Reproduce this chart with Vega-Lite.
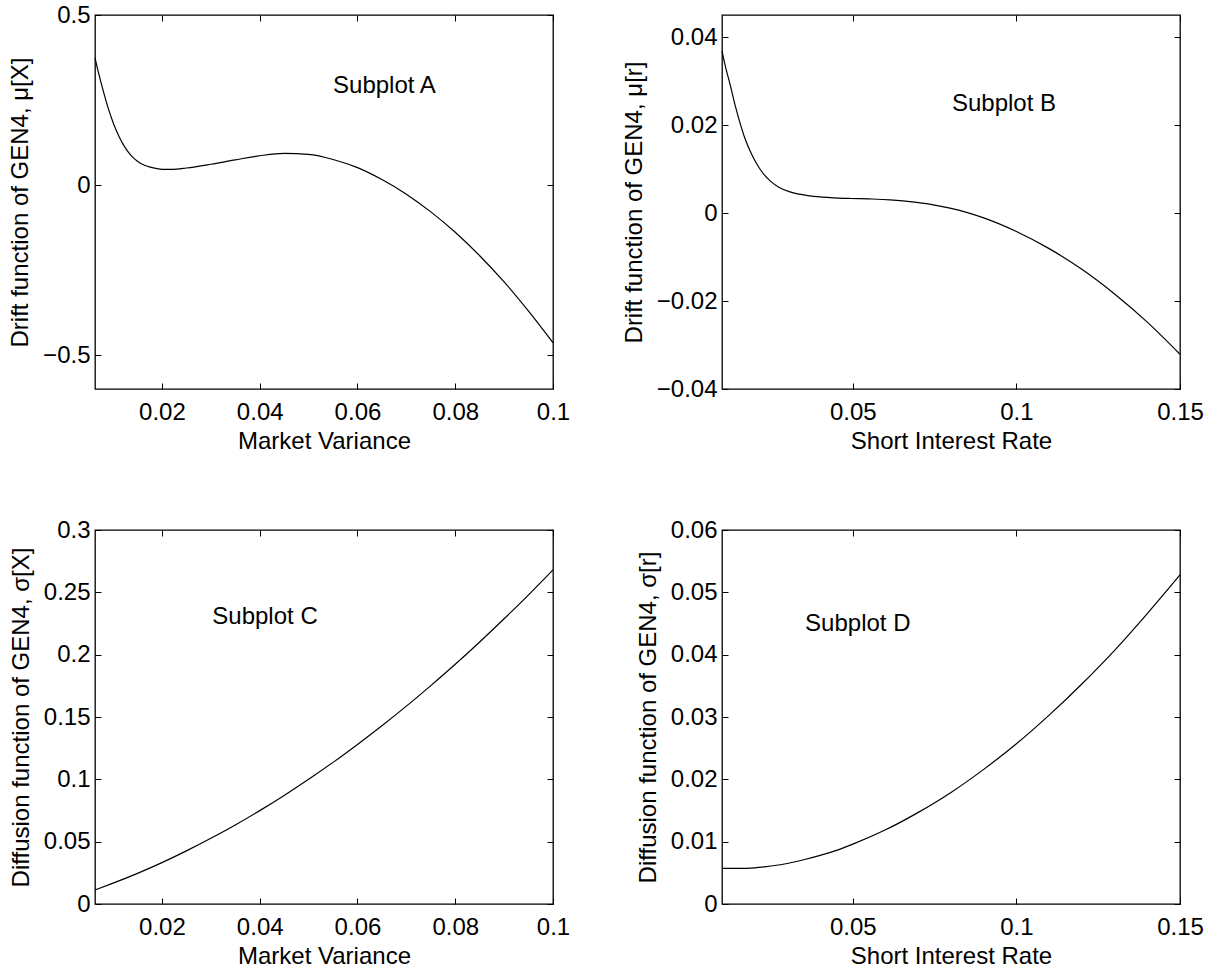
{
  "$schema": "https://vega.github.io/schema/vega-lite/v6.json",
  "background": "white",
  "padding": {"left": 7, "top": 2, "right": 5, "bottom": 5},
  "datasets": {
    "A": [
      {"x": 0.0063, "y": 0.374}, {"x": 0.007, "y": 0.331}, {"x": 0.008, "y": 0.276}, {"x": 0.009, "y": 0.226},
      {"x": 0.010, "y": 0.184}, {"x": 0.011, "y": 0.149}, {"x": 0.012, "y": 0.121}, {"x": 0.013, "y": 0.099},
      {"x": 0.014, "y": 0.082}, {"x": 0.015, "y": 0.070}, {"x": 0.016, "y": 0.061}, {"x": 0.017, "y": 0.055},
      {"x": 0.018, "y": 0.051}, {"x": 0.019, "y": 0.048},
      {"x": 0.020, "y": 0.046}, {"x": 0.022, "y": 0.046}, {"x": 0.025, "y": 0.050}, {"x": 0.030, "y": 0.061},
      {"x": 0.035, "y": 0.074}, {"x": 0.040, "y": 0.086}, {"x": 0.045, "y": 0.093}, {"x": 0.050, "y": 0.090},
      {"x": 0.055, "y": 0.075}, {"x": 0.060, "y": 0.051}, {"x": 0.065, "y": 0.016}, {"x": 0.070, "y": -0.027},
      {"x": 0.075, "y": -0.079}, {"x": 0.080, "y": -0.139}, {"x": 0.085, "y": -0.208}, {"x": 0.090, "y": -0.285},
      {"x": 0.095, "y": -0.371}, {"x": 0.100, "y": -0.464}
    ],
    "B": [
      {"x": 0.010, "y": 0.0368}, {"x": 0.0112, "y": 0.0328}, {"x": 0.01245, "y": 0.0293}, {"x": 0.014, "y": 0.0245},
      {"x": 0.0155, "y": 0.0205}, {"x": 0.017, "y": 0.0170}, {"x": 0.0186, "y": 0.0141}, {"x": 0.020, "y": 0.0120},
      {"x": 0.0216, "y": 0.0100}, {"x": 0.023, "y": 0.0086}, {"x": 0.0247, "y": 0.0073}, {"x": 0.0275, "y": 0.0058},
      {"x": 0.0308, "y": 0.0048}, {"x": 0.0369, "y": 0.0039}, {"x": 0.043, "y": 0.0035}, {"x": 0.0491, "y": 0.0033},
      {"x": 0.055, "y": 0.0032}, {"x": 0.0614, "y": 0.0030}, {"x": 0.0695, "y": 0.0024}, {"x": 0.075, "y": 0.0018},
      {"x": 0.0797, "y": 0.0011}, {"x": 0.085, "y": 0.0001}, {"x": 0.090, "y": -0.0011}, {"x": 0.100, "y": -0.0042},
      {"x": 0.110, "y": -0.0081}, {"x": 0.120, "y": -0.0128}, {"x": 0.130, "y": -0.0184}, {"x": 0.140, "y": -0.0248},
      {"x": 0.150, "y": -0.0321}
    ],
    "C": [
      {"x": 0.0063, "y": 0.0112}, {"x": 0.010, "y": 0.0167}, {"x": 0.015, "y": 0.0246}, {"x": 0.020, "y": 0.0332},
      {"x": 0.025, "y": 0.0426}, {"x": 0.030, "y": 0.0527}, {"x": 0.035, "y": 0.0634}, {"x": 0.040, "y": 0.0749},
      {"x": 0.045, "y": 0.0871}, {"x": 0.050, "y": 0.1000}, {"x": 0.055, "y": 0.1136}, {"x": 0.060, "y": 0.1280},
      {"x": 0.065, "y": 0.1430}, {"x": 0.070, "y": 0.1587}, {"x": 0.075, "y": 0.1752}, {"x": 0.080, "y": 0.1923},
      {"x": 0.085, "y": 0.2102}, {"x": 0.090, "y": 0.2288}, {"x": 0.095, "y": 0.2480}, {"x": 0.100, "y": 0.2680}
    ],
    "D": [
      {"x": 0.010, "y": 0.0057}, {"x": 0.015, "y": 0.0057}, {"x": 0.020, "y": 0.0058}, {"x": 0.025, "y": 0.0061},
      {"x": 0.030, "y": 0.0065}, {"x": 0.035, "y": 0.0071}, {"x": 0.040, "y": 0.0078}, {"x": 0.045, "y": 0.0086},
      {"x": 0.050, "y": 0.0096}, {"x": 0.060, "y": 0.0119}, {"x": 0.070, "y": 0.0147}, {"x": 0.080, "y": 0.0179},
      {"x": 0.090, "y": 0.0216}, {"x": 0.100, "y": 0.0257}, {"x": 0.110, "y": 0.0303}, {"x": 0.120, "y": 0.0353},
      {"x": 0.130, "y": 0.0407}, {"x": 0.140, "y": 0.0466}, {"x": 0.150, "y": 0.0528}
    ],
    "labels": [
      {"panel": "A", "x": 0.0550, "y": 0.2706, "label": "Subplot A"},
      {"panel": "B", "x": 0.0803, "y": 0.02318, "label": "Subplot B"},
      {"panel": "C", "x": 0.0303, "y": 0.2246, "label": "Subplot C"},
      {"panel": "D", "x": 0.0354, "y": 0.0438, "label": "Subplot D"}
    ]
  },
  "columns": 2,
  "bounds": "flush",
  "spacing": {"row": 141, "column": 169},
  "concat": [
    {
      "width": 458, "height": 374,
      "resolve": {"axis": {"x": "independent", "y": "independent"}},
      "layer": [
        {
          "data": {"name": "A"},
          "mark": {"type": "line", "color": "black", "strokeWidth": 1.2, "interpolate": "monotone"},
          "encoding": {
            "x": {"field": "x", "type": "quantitative", "scale": {"domain": [0.0063, 0.1], "nice": false, "zero": false},
                  "axis": {"values": [0.02, 0.04, 0.06, 0.08, 0.1], "title": "Market Variance"}},
            "y": {"field": "y", "type": "quantitative", "scale": {"domain": [-0.6, 0.5], "nice": false, "zero": false},
                  "axis": {"values": [-0.5, 0, 0.5], "title": "Drift function of GEN4, μ[X]"}}
          }
        },
        {
          "data": {"name": "labels"},
          "transform": [{"filter": "datum.panel === 'A'"}],
          "mark": {"type": "text", "align": "left", "baseline": "alphabetic", "fontSize": 24, "font": "Liberation Sans", "color": "black"},
          "encoding": {
            "x": {"field": "x", "type": "quantitative", "axis": {"orient": "top", "labels": false, "title": null, "values": [0.02, 0.04, 0.06, 0.08, 0.1]}},
            "y": {"field": "y", "type": "quantitative", "axis": {"orient": "right", "labels": false, "title": null, "values": [-0.5, 0, 0.5]}},
            "text": {"field": "label"}
          }
        }
      ]
    },
    {
      "width": 458, "height": 374,
      "resolve": {"axis": {"x": "independent", "y": "independent"}},
      "layer": [
        {
          "data": {"name": "B"},
          "mark": {"type": "line", "color": "black", "strokeWidth": 1.2, "interpolate": "monotone"},
          "encoding": {
            "x": {"field": "x", "type": "quantitative", "scale": {"domain": [0.01, 0.15], "nice": false, "zero": false},
                  "axis": {"values": [0.05, 0.1, 0.15], "title": "Short Interest Rate"}},
            "y": {"field": "y", "type": "quantitative", "scale": {"domain": [-0.04, 0.045], "nice": false, "zero": false},
                  "axis": {"values": [-0.04, -0.02, 0, 0.02, 0.04], "title": "Drift function of GEN4, μ[r]"}}
          }
        },
        {
          "data": {"name": "labels"},
          "transform": [{"filter": "datum.panel === 'B'"}],
          "mark": {"type": "text", "align": "left", "baseline": "alphabetic", "fontSize": 24, "font": "Liberation Sans", "color": "black"},
          "encoding": {
            "x": {"field": "x", "type": "quantitative", "axis": {"orient": "top", "labels": false, "title": null, "values": [0.05, 0.1, 0.15]}},
            "y": {"field": "y", "type": "quantitative", "axis": {"orient": "right", "labels": false, "title": null, "values": [-0.04, -0.02, 0, 0.02, 0.04]}},
            "text": {"field": "label"}
          }
        }
      ]
    },
    {
      "width": 458, "height": 374,
      "resolve": {"axis": {"x": "independent", "y": "independent"}},
      "layer": [
        {
          "data": {"name": "C"},
          "mark": {"type": "line", "color": "black", "strokeWidth": 1.2, "interpolate": "monotone"},
          "encoding": {
            "x": {"field": "x", "type": "quantitative", "scale": {"domain": [0.0063, 0.1], "nice": false, "zero": false},
                  "axis": {"values": [0.02, 0.04, 0.06, 0.08, 0.1], "title": "Market Variance"}},
            "y": {"field": "y", "type": "quantitative", "scale": {"domain": [0, 0.3], "nice": false, "zero": false},
                  "axis": {"values": [0, 0.05, 0.1, 0.15, 0.2, 0.25, 0.3], "title": "Diffusion function of GEN4, σ[X]"}}
          }
        },
        {
          "data": {"name": "labels"},
          "transform": [{"filter": "datum.panel === 'C'"}],
          "mark": {"type": "text", "align": "left", "baseline": "alphabetic", "fontSize": 24, "font": "Liberation Sans", "color": "black"},
          "encoding": {
            "x": {"field": "x", "type": "quantitative", "axis": {"orient": "top", "labels": false, "title": null, "values": [0.02, 0.04, 0.06, 0.08, 0.1]}},
            "y": {"field": "y", "type": "quantitative", "axis": {"orient": "right", "labels": false, "title": null, "values": [0, 0.05, 0.1, 0.15, 0.2, 0.25, 0.3]}},
            "text": {"field": "label"}
          }
        }
      ]
    },
    {
      "width": 458, "height": 374,
      "resolve": {"axis": {"x": "independent", "y": "independent"}},
      "layer": [
        {
          "data": {"name": "D"},
          "mark": {"type": "line", "color": "black", "strokeWidth": 1.2, "interpolate": "monotone"},
          "encoding": {
            "x": {"field": "x", "type": "quantitative", "scale": {"domain": [0.01, 0.15], "nice": false, "zero": false},
                  "axis": {"values": [0.05, 0.1, 0.15], "title": "Short Interest Rate"}},
            "y": {"field": "y", "type": "quantitative", "scale": {"domain": [0, 0.06], "nice": false, "zero": false},
                  "axis": {"values": [0, 0.01, 0.02, 0.03, 0.04, 0.05, 0.06], "title": "Diffusion function of GEN4, σ[r]"}}
          }
        },
        {
          "data": {"name": "labels"},
          "transform": [{"filter": "datum.panel === 'D'"}],
          "mark": {"type": "text", "align": "left", "baseline": "alphabetic", "fontSize": 24, "font": "Liberation Sans", "color": "black"},
          "encoding": {
            "x": {"field": "x", "type": "quantitative", "axis": {"orient": "top", "labels": false, "title": null, "values": [0.05, 0.1, 0.15]}},
            "y": {"field": "y", "type": "quantitative", "axis": {"orient": "right", "labels": false, "title": null, "values": [0, 0.01, 0.02, 0.03, 0.04, 0.05, 0.06]}},
            "text": {"field": "label"}
          }
        }
      ]
    }
  ],
  "config": {
    "view": {"stroke": "black", "strokeWidth": 1.3},
    "axis": {
      "domain": false, "grid": false, "ticks": true, "tickSize": -6, "tickColor": "black", "tickWidth": 1,
      "labelFont": "Liberation Sans", "labelFontSize": 24, "labelColor": "black",
      "labelFlush": false, "labelOverlap": false, "format": ".6~g",
      "titleFont": "Liberation Sans", "titleFontSize": 24, "titleFontWeight": "normal", "titleColor": "black"
    },
    "axisX": {"labelPadding": 17, "titlePadding": 5},
    "axisY": {"labelPadding": 11, "titlePadding": 10}
  }
}
